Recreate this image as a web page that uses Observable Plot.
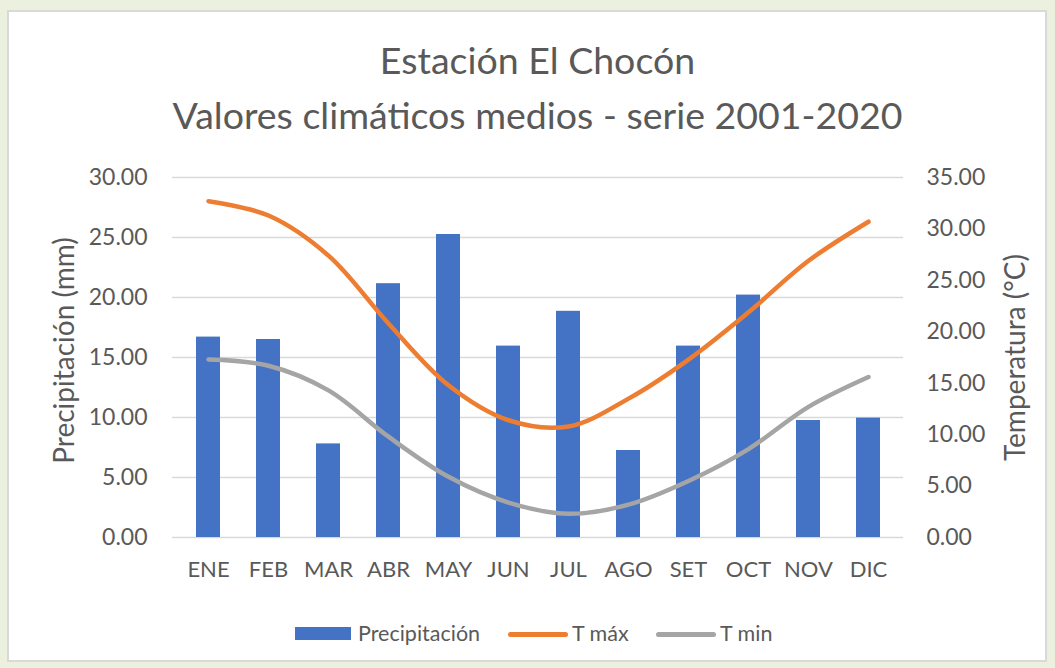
<!DOCTYPE html>
<html><head><meta charset="utf-8">
<script src="https://cdn.jsdelivr.net/npm/d3@7"></script>
<script src="https://cdn.jsdelivr.net/npm/@observablehq/plot@0.6"></script>
<style>
html,body{margin:0;padding:0;background:#ebf1de;width:1055px;height:668px;overflow:hidden;font-family:Lato,"Open Sans",sans-serif;color:#595959;}
#panel{position:absolute;left:7px;top:10px;width:1036px;height:648px;background:#fff;border:2px solid #d9d9d9;}
.title{position:absolute;left:0;width:1075px;text-align:center;font-size:37.5px;line-height:45px;color:#595959;white-space:nowrap;}
#chart{position:absolute;left:0;top:150px;}
#legend{position:absolute;top:621px;left:0;width:1055px;height:26px;font-size:21.5px;line-height:26px;}
#legend div{position:absolute;white-space:nowrap;}
</style></head>
<body>
<div id="panel"></div>
<div class="title" style="top:37px">Estación El Chocón</div>
<div class="title" style="top:92px">Valores climáticos medios - serie 2001-2020</div>
<div id="chart"></div>
<div id="legend">
  <div style="left:295px;top:6px;width:56px;height:13px;background:#4472c4"></div>
  <div style="left:358px;top:-1px">Precipitación</div>
  <div style="left:508px;top:11px;width:60px;height:5px;border-radius:3px;background:#ed7d31"></div>
  <div style="left:572px;top:-1px">T máx</div>
  <div style="left:656px;top:11px;width:60px;height:5px;border-radius:3px;background:#a5a5a5"></div>
  <div style="left:720px;top:-1px">T min</div>
</div>
<script>
const months = ["ENE","FEB","MAR","ABR","MAY","JUN","JUL","AGO","SET","OCT","NOV","DIC"];
const precip = [16.7, 16.5, 7.8, 21.15, 25.25, 15.95, 18.85, 7.25, 15.95, 20.2, 9.75, 9.95];
const tmax = [32.7, 31.3, 27.4, 20.8, 14.8, 11.4, 10.8, 13.5, 17.3, 21.9, 26.9, 30.7];
const tmin = [17.3, 16.7, 14.3, 9.8, 5.9, 3.4, 2.3, 3.2, 5.5, 8.6, 12.7, 15.6];
const leftTicks = [0, 5, 10, 15, 20, 25, 30];
const rightTicks = [0, 5, 10, 15, 20, 25, 30, 35];

const k = 30 / 35; // temperature -> left scale units
const bars = months.map((m, i) => ({month: m, value: precip[i]}));
const maxData = months.map((m, i) => ({month: m, value: tmax[i] * k}));
const minData = months.map((m, i) => ({month: m, value: tmin[i] * k}));

const chart = Plot.plot({
  width: 1055,
  height: 430,
  marginTop: 27,
  marginBottom: 43,
  marginLeft: 172,
  marginRight: 152,
  style: {fontFamily: "Lato, 'Open Sans', sans-serif", fontSize: "23px", color: "#595959", background: "transparent", overflow: "visible"},
  x: {domain: months, type: "band", paddingInner: 0.6, paddingOuter: 0.3, label: null},
  y: {domain: [0, 30], label: null},
  marks: [
    Plot.gridY(leftTicks, {stroke: "#d9d9d9", strokeOpacity: 1, strokeWidth: 1.3}),
    Plot.barY(bars, {x: "month", y: "value", fill: "#4472c4"}),
    Plot.line(maxData, {x: "month", y: "value", stroke: "#ed7d31", strokeWidth: 4.5, curve: "catmull-rom"}),
    Plot.line(minData, {x: "month", y: "value", stroke: "#a5a5a5", strokeWidth: 4.5, curve: "catmull-rom"}),
    Plot.axisX({tickSize: 0, tickPadding: 24, fontSize: 22, label: null}),
    Plot.axisY(leftTicks, {anchor: "left", tickSize: 0, tickPadding: 25, fontSize: 23, tickFormat: d => d.toFixed(2), label: null}),
    Plot.axisY(rightTicks.map(t => t * k), {anchor: "right", tickSize: 0, tickPadding: 23, fontSize: 23, tickFormat: d => (d / k).toFixed(2), label: null}),
    Plot.text(["Precipitación (mm)"], {frameAnchor: "left", textAnchor: "middle", dx: -107, dy: -7, rotate: -90, fontSize: 28, fill: "#595959"}),
    Plot.text(["Temperatura (°C)"], {frameAnchor: "right", textAnchor: "middle", dx: 113, rotate: -90, fontSize: 28, fill: "#595959"})
  ]
});
document.getElementById("chart").appendChild(chart);
</script>
</body></html>
